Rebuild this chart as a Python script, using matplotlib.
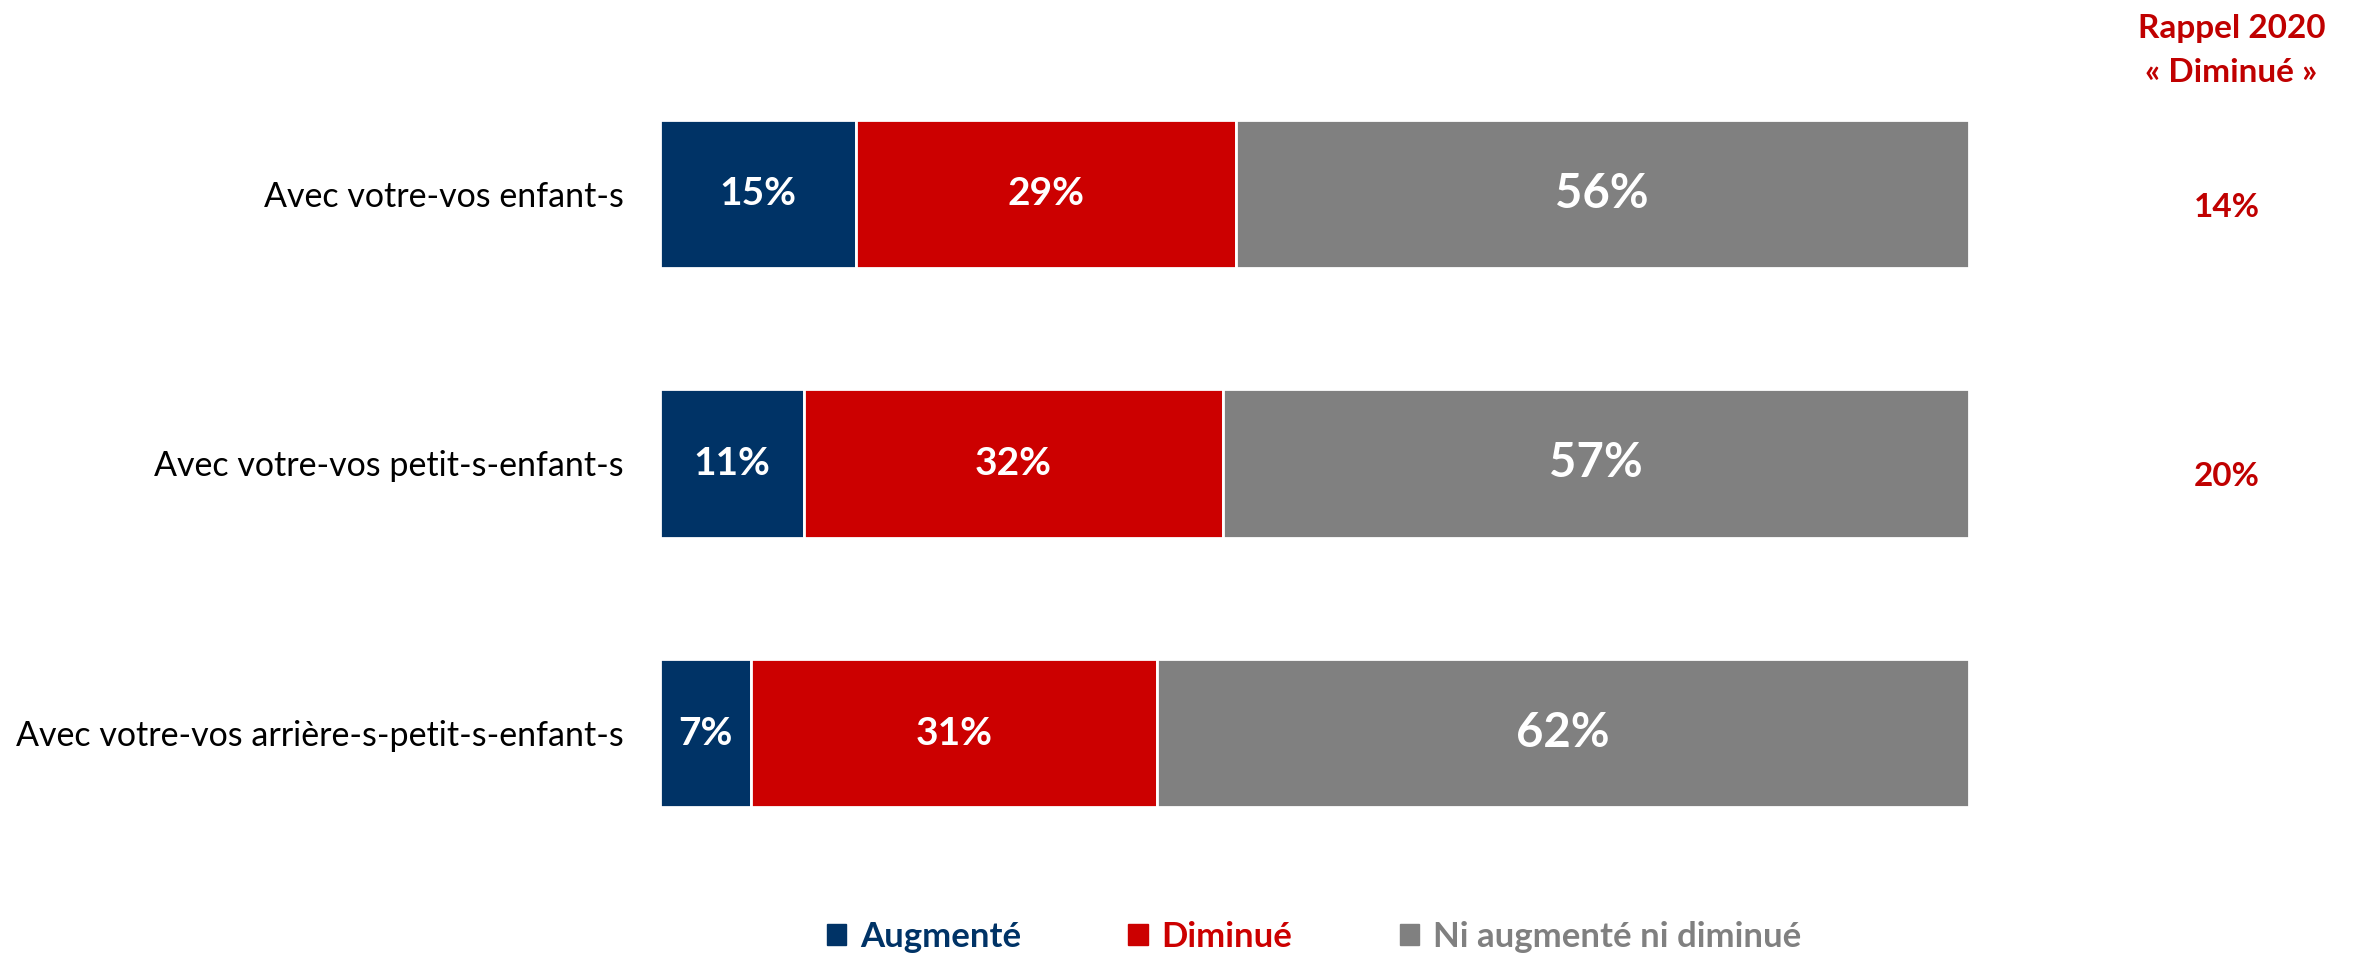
import matplotlib.pyplot as plt
from matplotlib.patches import Patch

plt.rcParams['font.family'] = ['Lato', 'DejaVu Sans']

categories = ['Avec votre-vos enfant-s', 'Avec votre-vos petit-s-enfant-s',
              'Avec votre-vos arrière-s-petit-s-enfant-s']
augmente = [15, 11, 7]
diminue = [29, 32, 31]
ni_ni = [56, 57, 62]
rappel_2020 = ['14%', '20%', '']
series_names = ['Augmenté', 'Diminué', 'Ni augmenté ni diminué']
colors = ['#003366', '#CC0000', '#808080']

fig = plt.figure(figsize=(23.59, 9.58), dpi=100)
ax = fig.add_axes([0.2797, 0.094, 0.5549, 0.8445])

y = list(range(len(categories)))
left = [0] * len(categories)
for vals, col, name, fs in zip([augmente, diminue, ni_ni], colors, series_names, [28, 28, 34]):
    ax.barh(y, vals, left=left, height=0.55, color=col, edgecolor='white', linewidth=2, label=name)
    for i, v in enumerate(vals):
        ax.text(left[i] + v / 2, i, f'{v}%', ha='center', va='center',
                color='white', fontsize=fs, fontweight='bold')
    left = [l + v for l, v in zip(left, vals)]

ax.set_xlim(0, 100)
ax.set_ylim(2.5, -0.5)
ax.set_yticks(y)
ax.set_yticklabels(categories, fontsize=24.5)
ax.tick_params(axis='y', length=0, pad=26)
ax.set_xticks([])
for s in ax.spines.values():
    s.set_visible(False)

# colonne rappel 2020
fig.text(0.946, 0.970, 'Rappel 2020', ha='center', va='center', color='#C00000',
         fontsize=24, fontweight='bold')
fig.text(0.946, 0.924, '« Diminué »', ha='center', va='center', color='#C00000',
         fontsize=24, fontweight='bold')
for i, r in enumerate(rappel_2020):
    if r:
        ax.text(1.197, i + 0.05, r, transform=ax.get_yaxis_transform(), ha='center', va='center',
                color='#C00000', fontsize=24, fontweight='bold')

handles = [Patch(color=c) for c in colors]
leg = fig.legend(handles, series_names, loc='center', bbox_to_anchor=(0.557, 0.022), ncol=3,
                 frameon=False, handlelength=0.55, handleheight=0.55, handletextpad=0.4,
                 columnspacing=3.1, prop={'size': 25, 'weight': 'bold'})
for t, c in zip(leg.get_texts(), colors):
    t.set_color(c)

fig.savefig('out.png', dpi=100)
